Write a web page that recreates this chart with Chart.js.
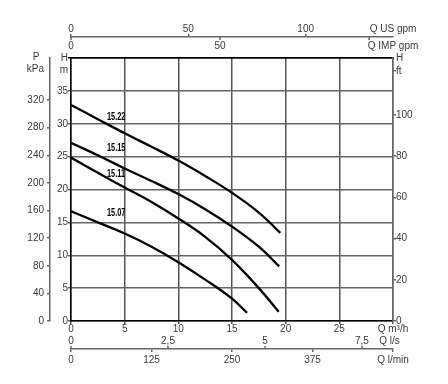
<!DOCTYPE html>
<html>
<head>
<meta charset="utf-8">
<script src="https://cdn.jsdelivr.net/npm/chart.js@4.4.1/dist/chart.umd.min.js"></script>
<style>
  html, body { margin: 0; padding: 0; background: #fff; }
  #wrap { width: 448px; height: 384px; }
</style>
</head>
<body>
<div id="wrap"><canvas id="curvas" width="448" height="384"></canvas></div>
<script>
// curvas: Q em m³/h, H em m
const curveNames = ['15.22', '15.15', '15.11', '15.07'];
const q1522 = [0, 2.5, 5, 7.5, 10, 12.5, 15, 17.5, 19.5];
const h1522 = [32.85, 30.7, 28.55, 26.5, 24.4, 22.05, 19.5, 16.5, 13.4];
const q1515 = [0, 2.5, 5, 7.5, 10, 12.5, 15, 17.5, 19.4];
const h1515 = [27.1, 25.2, 23.2, 21.3, 19.3, 17.0, 14.35, 11.3, 8.3];
const q1511 = [0, 2.5, 5, 7.5, 10, 12.5, 15, 17.5, 19.35];
const h1511 = [24.85, 22.55, 20.3, 18.1, 15.6, 12.8, 9.3, 5.0, 1.4];
const q1507 = [0, 2.5, 5, 7.5, 10, 12.5, 15, 16.4];
const h1507 = [16.7, 15.0, 13.3, 11.3, 8.95, 6.3, 3.4, 1.25];

// etiquetas dos eixos
const mTicks = [0, 5, 10, 15, 20, 25, 30, 35];
const kpaTicks = [0, 40, 80, 120, 160, 200, 240, 280, 320];
const ftTicks = [0, 20, 40, 60, 80, 100];
const m3hTicks = [0, 5, 10, 15, 20, 25];
const lsTicks = [0, 2.5, 5, 7.5];
const lsLabels = ['0', '2,5', '5', '7,5'];
const lminTicks = [0, 125, 250, 375];
const usTicks = [0, 50, 100];
const impTicks = [0, 50];
const impMarks = [0, 50, 100];

// posição das legendas das curvas (Q, H)
const labelQ = 3.35;
const labelH = [30.6, 25.8, 21.9, 15.9];

const FONT = { family: '"Liberation Sans", Arial, sans-serif', size: 10 };
const TXT = '#3a3a3a';
const GRID = '#666';
const CLEAR = 'rgba(0,0,0,0)';

function pts(q, h) {
  return q.map((v, i) => ({ x: v, y: h[i] }));
}

// fixa os ticks de um eixo, com um último rótulo de unidade
function setTicks(values) {
  return scale => { scale.ticks = values.map(v => ({ value: v })); };
}

function tickLabels(labels) {
  return (value, index) => labels[index];
}

const extraMarks = {
  id: 'extraMarks',
  afterDraw(chart) {
    const { ctx, scales } = chart;
    ctx.save();
    ctx.strokeStyle = GRID;
    ctx.lineWidth = 1.5;

    // marcas do Q IMP gpm por baixo da linha
    const yUs = scales.xUs.bottom;
    impMarks.forEach(v => {
      const px = scales.xImp.getPixelForValue(v);
      ctx.beginPath();
      ctx.moveTo(px, yUs);
      ctx.lineTo(px, yUs + 3);
      ctx.stroke();
    });

    // marcas do Q l/s por cima da linha
    const yLm = scales.xLmin.top;
    lsTicks.forEach(v => {
      const px = scales.xLs.getPixelForValue(v);
      ctx.beginPath();
      ctx.moveTo(px, yLm);
      ctx.lineTo(px, yLm - 3);
      ctx.stroke();
    });

    ctx.fillStyle = TXT;
    ctx.font = '10px "Liberation Sans", Arial, sans-serif';
    ctx.textAlign = 'center';
    ctx.textBaseline = 'middle';
    ctx.fillText('P', scales.yKpa.right - 14, scales.yKpa.top - 1);

    // nomes das curvas, em letra estreita
    ctx.fillStyle = '#000';
    ctx.font = 'bold 10px "Liberation Sans", Arial, sans-serif';
    ctx.textAlign = 'left';
    ctx.textBaseline = 'alphabetic';
    curveNames.forEach((n, i) => {
      ctx.save();
      ctx.translate(scales.x.getPixelForValue(labelQ), scales.y.getPixelForValue(labelH[i]));
      ctx.scale(0.74, 1);
      ctx.fillText(n, 0, 0);
      ctx.restore();
    });
    ctx.restore();
  }
};

const curveStyle = {
  borderColor: '#000',
  borderWidth: 2.3,
  pointRadius: 0,
  fill: false,
  tension: 0.4
};

new Chart(document.getElementById('curvas'), {
  type: 'line',
  data: {
    datasets: [
      { label: curveNames[0], data: pts(q1522, h1522), ...curveStyle },
      { label: curveNames[1], data: pts(q1515, h1515), ...curveStyle },
      { label: curveNames[2], data: pts(q1511, h1511), ...curveStyle },
      { label: curveNames[3], data: pts(q1507, h1507), ...curveStyle }
    ]
  },
  options: {
    responsive: false,
    animation: false,
    layout: { padding: { top: 10, left: 10, right: 0, bottom: 10 } },
    plugins: { legend: { display: false }, tooltip: { enabled: false } },
    scales: {
      x: {
        type: 'linear', position: 'bottom', min: 0, max: 30, weight: 0,
        afterBuildTicks: setTicks([...m3hTicks, 30]),
        afterFit: s => { s.height = 14; },
        ticks: { callback: tickLabels([...m3hTicks.map(String), 'Q m³/h']), font: FONT, color: TXT, padding: -1, autoSkip: false, maxRotation: 0 },
        grid: { color: '#555', lineWidth: 1.5, tickLength: 3 },
        border: { color: '#000', width: 1.5 }
      },
      xLs: {
        type: 'linear', position: 'bottom', min: 0, max: 8.3, weight: 1,
        afterBuildTicks: setTicks([...lsTicks, 8.21]),
        afterFit: s => { s.height = 14; },
        ticks: { callback: tickLabels([...lsLabels, 'Q l/s']), font: FONT, color: TXT, padding: 0, autoSkip: false, maxRotation: 0 },
        grid: { drawOnChartArea: false, drawTicks: false },
        border: { display: false }
      },
      xLmin: {
        type: 'linear', position: 'bottom', min: 0, max: 500, weight: 2,
        afterBuildTicks: setTicks([...lminTicks, 500]),
        afterFit: s => { s.height = 25; },
        ticks: { callback: tickLabels([...lminTicks.map(String), 'Q l/min']), font: FONT, color: TXT, padding: 2, autoSkip: false, maxRotation: 0 },
        grid: { drawOnChartArea: false, tickLength: 3, color: GRID, lineWidth: 1.5 },
        border: { color: GRID, width: 1.5 }
      },
      xImp: {
        type: 'linear', position: 'top', min: 0, max: 108, weight: 1,
        afterBuildTicks: setTicks([...impTicks, 108]),
        afterFit: s => { s.height = 21; },
        ticks: { callback: tickLabels([...impTicks.map(String), 'Q IMP gpm']), font: FONT, color: TXT, padding: 6, autoSkip: false, maxRotation: 0 },
        grid: { drawOnChartArea: false, drawTicks: false },
        border: { color: '#000', width: 1.5 }
      },
      xUs: {
        type: 'linear', position: 'top', min: 0, max: 137.2, weight: 2,
        afterBuildTicks: setTicks([...usTicks, 137.2]),
        afterFit: s => { s.height = 27; },
        ticks: { callback: tickLabels([...usTicks.map(String), 'Q US gpm']), font: FONT, color: TXT, padding: -1, autoSkip: false, maxRotation: 0 },
        grid: {
          drawOnChartArea: false, tickLength: 3, lineWidth: 1.5,
          color: c => (c.tick && c.tick.value === 137.2 ? CLEAR : GRID)
        },
        border: { color: GRID, width: 1.5 }
      },
      y: {
        type: 'linear', position: 'left', min: 0, max: 40, weight: 0,
        afterBuildTicks: setTicks([...mTicks, 38.2, 40]),
        afterFit: s => { s.width = 21; },
        ticks: { callback: tickLabels([...mTicks.map(String), 'm', 'H']), font: FONT, color: TXT, padding: 0, autoSkip: false },
        grid: {
          lineWidth: 1.5, tickLength: 3,
          color: c => {
            if (!c.tick) return GRID;
            if (c.tick.value === 38.2) return CLEAR;
            if (c.tick.value === 40) return '#000';
            return GRID;
          }
        },
        border: { color: '#000', width: 1.5 }
      },
      yKpa: {
        type: 'linear', position: 'left', min: 0, max: 381, weight: 1,
        afterBuildTicks: setTicks([...kpaTicks, 364.5]),
        afterFit: s => { s.width = 40; },
        ticks: { callback: tickLabels([...kpaTicks.map(String), 'kPa']), font: FONT, color: TXT, padding: 3, autoSkip: false },
        grid: {
          drawOnChartArea: false, tickLength: 3, lineWidth: 1.5,
          color: c => (c.tick && c.tick.value === 364.5 ? CLEAR : GRID)
        },
        border: { color: GRID, width: 1.5 }
      },
      yFt: {
        type: 'linear', position: 'right', min: 0, max: 127.7, weight: 0,
        afterBuildTicks: setTicks([...ftTicks, 121.5, 127.7]),
        afterFit: s => { s.width = 55; },
        ticks: { callback: tickLabels([...ftTicks.map(String), 'ft', 'H']), font: FONT, color: TXT, padding: 0, autoSkip: false },
        grid: {
          drawOnChartArea: false, tickLength: 3, lineWidth: 1.5,
          color: c => (c.tick && c.tick.value === 127.7 ? CLEAR : GRID)
        },
        border: { color: GRID, width: 1.5 }
      }
    }
  },
  plugins: [extraMarks]
});
</script>
</body>
</html>
